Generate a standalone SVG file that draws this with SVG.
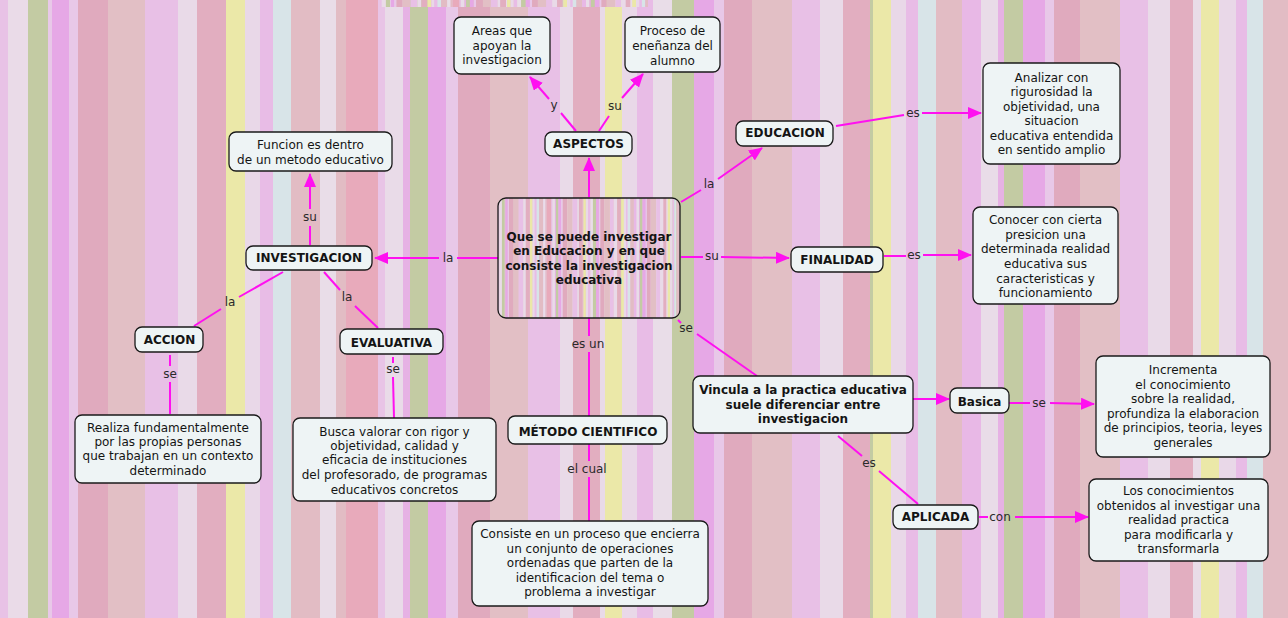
<svg xmlns="http://www.w3.org/2000/svg" xmlns:xlink="http://www.w3.org/1999/xlink" width="1288" height="618" viewBox="0 0 1288 618">
<style>
.n rect{fill:#eef4f5;stroke:#1a1a1a;stroke-width:1.3}
.t{font-family:"DejaVu Sans",Verdana,sans-serif;font-size:12px;fill:#141414;text-anchor:middle}
.b{font-weight:bold}
.lbl{font-family:"DejaVu Sans",Verdana,sans-serif;font-size:12px;fill:#2a2a2a;text-anchor:middle}
.c line{stroke:#ff10f0;stroke-width:2;fill:none}
.c line.a{marker-end:url(#ar)}
</style>
<defs>
<marker id="ar" markerUnits="userSpaceOnUse" markerWidth="14" markerHeight="12" refX="13" refY="6" orient="auto">
<path d="M0,0 L14,6 L0,12 z" fill="#ff10f0"/>
</marker>
<g id="bg">
<rect x="0" y="0" width="8" height="618" fill="#e8c2e6"/>
<rect x="8" y="0" width="20" height="618" fill="#eadbe8"/>
<rect x="28" y="0" width="20" height="618" fill="#c3cba3"/>
<rect x="48" y="0" width="4" height="618" fill="#e8c8e8"/>
<rect x="52" y="0" width="17" height="618" fill="#e6a8e6"/>
<rect x="69" y="0" width="9" height="618" fill="#e8c8e8"/>
<rect x="78" y="0" width="30" height="618" fill="#e0aabe"/>
<rect x="108" y="0" width="37" height="618" fill="#e2bfc5"/>
<rect x="145" y="0" width="33" height="618" fill="#e8c0e6"/>
<rect x="178" y="0" width="19" height="618" fill="#e9dae8"/>
<rect x="197" y="0" width="29" height="618" fill="#e2aec0"/>
<rect x="226" y="0" width="19" height="618" fill="#ebe8a8"/>
<rect x="245" y="0" width="15" height="618" fill="#e9d8e8"/>
<rect x="260" y="0" width="13" height="618" fill="#e8bce6"/>
<rect x="273" y="0" width="18" height="618" fill="#d8e4e8"/>
<rect x="291" y="0" width="29" height="618" fill="#e2bcc4"/>
<rect x="320" y="0" width="16" height="618" fill="#e9dde8"/>
<rect x="336" y="0" width="10" height="618" fill="#e2bcc4"/>
<rect x="346" y="0" width="32" height="618" fill="#e8aabb"/>
<rect x="378" y="0" width="7" height="618" fill="#e8c4e6"/>
<rect x="385" y="0" width="18" height="618" fill="#e9dbe8"/>
<rect x="403" y="0" width="7" height="618" fill="#e6b2e4"/>
<rect x="410" y="0" width="18" height="618" fill="#c3cba3"/>
<rect x="428" y="0" width="18" height="618" fill="#e6a8e6"/>
<rect x="446" y="0" width="12" height="618" fill="#e8c8e8"/>
<rect x="458" y="0" width="32" height="618" fill="#e0aabe"/>
<rect x="490" y="0" width="38" height="618" fill="#e2bfc5"/>
<rect x="528" y="0" width="32" height="618" fill="#e8c0e6"/>
<rect x="560" y="0" width="13" height="618" fill="#e9dae8"/>
<rect x="573" y="0" width="27" height="618" fill="#e2aec0"/>
<rect x="600" y="0" width="5" height="618" fill="#e9dae8"/>
<rect x="605" y="0" width="17" height="618" fill="#ebe8a8"/>
<rect x="622" y="0" width="15" height="618" fill="#e9d8e8"/>
<rect x="637" y="0" width="16" height="618" fill="#e8bce6"/>
<rect x="653" y="0" width="19" height="618" fill="#e9dde8"/>
<rect x="672" y="0" width="22" height="618" fill="#c3cba3"/>
<rect x="694" y="0" width="20" height="618" fill="#e6a8e6"/>
<rect x="714" y="0" width="10" height="618" fill="#e8c8e8"/>
<rect x="724" y="0" width="28" height="618" fill="#e0aabe"/>
<rect x="752" y="0" width="40" height="618" fill="#e2bfc5"/>
<rect x="792" y="0" width="28" height="618" fill="#e8c0e6"/>
<rect x="820" y="0" width="23" height="618" fill="#e9dae8"/>
<rect x="843" y="0" width="27" height="618" fill="#e2aec0"/>
<rect x="870" y="0" width="3" height="618" fill="#c3cba3"/>
<rect x="873" y="0" width="18" height="618" fill="#ebe8a8"/>
<rect x="891" y="0" width="15" height="618" fill="#e9d8e8"/>
<rect x="906" y="0" width="12" height="618" fill="#e8bce6"/>
<rect x="918" y="0" width="18" height="618" fill="#d8e4e8"/>
<rect x="936" y="0" width="26" height="618" fill="#e2bcc4"/>
<rect x="962" y="0" width="19" height="618" fill="#e8b8e6"/>
<rect x="981" y="0" width="17" height="618" fill="#e9dce8"/>
<rect x="998" y="0" width="6" height="618" fill="#e6b2e4"/>
<rect x="1004" y="0" width="19" height="618" fill="#c3cba3"/>
<rect x="1023" y="0" width="22" height="618" fill="#e6a8e6"/>
<rect x="1045" y="0" width="9" height="618" fill="#e8c8e8"/>
<rect x="1054" y="0" width="26" height="618" fill="#e0aabe"/>
<rect x="1080" y="0" width="40" height="618" fill="#e2bfc5"/>
<rect x="1120" y="0" width="28" height="618" fill="#e8c0e6"/>
<rect x="1148" y="0" width="22" height="618" fill="#e9dae8"/>
<rect x="1170" y="0" width="23" height="618" fill="#e2aec0"/>
<rect x="1193" y="0" width="8" height="618" fill="#e9dce8"/>
<rect x="1201" y="0" width="18" height="618" fill="#ebe8a8"/>
<rect x="1219" y="0" width="17" height="618" fill="#e9d8e8"/>
<rect x="1236" y="0" width="11" height="618" fill="#e8bce6"/>
<rect x="1247" y="0" width="16" height="618" fill="#d8e4e8"/>
<rect x="1263" y="0" width="25" height="618" fill="#e2bcc4"/>
</g>
<clipPath id="cc"><rect x="498" y="198" width="182" height="120" rx="8"/></clipPath>
<clipPath id="ct"><rect x="380" y="0" width="268" height="7"/></clipPath>
</defs>

<use href="#bg" xlink:href="#bg"/>
<g clip-path="url(#ct)"><use href="#bg" xlink:href="#bg" transform="translate(380,0) scale(0.21,1)"/></g>

<g class="c" id="connectors">
<line class="a" x1="589" y1="197" x2="589" y2="158"/>
<line x1="576" y1="131" x2="561" y2="113"/>
<line class="a" x1="549" y1="99" x2="530" y2="77"/>
<line x1="599" y1="131" x2="609" y2="116"/>
<line class="a" x1="622" y1="98" x2="643" y2="74"/>
<line x1="310" y1="245" x2="310" y2="226"/>
<line class="a" x1="310" y1="209" x2="310" y2="174"/>
<line x1="498" y1="258" x2="457" y2="258"/>
<line class="a" x1="439" y1="258" x2="375" y2="258"/>
<line x1="283" y1="272" x2="239" y2="297"/>
<line x1="221" y1="309" x2="194" y2="326"/>
<line x1="324" y1="272" x2="340" y2="290"/>
<line x1="355" y1="306" x2="378" y2="328"/>
<line x1="170" y1="355" x2="170" y2="366"/>
<line x1="170" y1="382" x2="170" y2="414"/>
<line x1="393" y1="357" x2="393" y2="363"/>
<line x1="393" y1="377" x2="394" y2="418"/>
<line x1="589" y1="318" x2="589" y2="336"/>
<line x1="589" y1="352" x2="589" y2="416"/>
<line x1="589" y1="444" x2="589" y2="461"/>
<line x1="589" y1="477" x2="589" y2="521"/>
<line x1="681" y1="202" x2="701" y2="190"/>
<line class="a" x1="718" y1="179" x2="762" y2="148"/>
<line x1="836" y1="126" x2="904" y2="115"/>
<line class="a" x1="922" y1="113" x2="981" y2="113"/>
<line x1="681" y1="257" x2="703" y2="257"/>
<line class="a" x1="721" y1="257" x2="789" y2="258"/>
<line x1="884" y1="256" x2="906" y2="256"/>
<line class="a" x1="923" y1="255" x2="971" y2="255"/>
<line x1="678" y1="320" x2="681" y2="323"/>
<line x1="697" y1="334" x2="757" y2="376"/>
<line class="a" x1="913" y1="399" x2="949" y2="399"/>
<line x1="1009" y1="403" x2="1030" y2="403"/>
<line class="a" x1="1050" y1="403" x2="1094" y2="404"/>
<line x1="838" y1="436" x2="862" y2="456"/>
<line x1="879" y1="471" x2="918" y2="504"/>
<line x1="979" y1="517" x2="988" y2="517"/>
<line class="a" x1="1015" y1="517" x2="1088" y2="517"/>
</g>

<g id="connector-labels">
<text class="lbl" x="554" y="109">y</text>
<text class="lbl" x="615" y="110">su</text>
<text class="lbl" x="310" y="221">su</text>
<text class="lbl" x="448" y="262">la</text>
<text class="lbl" x="230" y="306">la</text>
<text class="lbl" x="347" y="301">la</text>
<text class="lbl" x="170" y="378">se</text>
<text class="lbl" x="393" y="373">se</text>
<text class="lbl" x="588" y="348">es un</text>
<text class="lbl" x="587" y="473">el cual</text>
<text class="lbl" x="709" y="188">la</text>
<text class="lbl" x="913" y="117">es</text>
<text class="lbl" x="712" y="260">su</text>
<text class="lbl" x="914" y="259">es</text>
<text class="lbl" x="686" y="332">se</text>
<text class="lbl" x="1039" y="407">se</text>
<text class="lbl" x="869" y="467">es</text>
<text class="lbl" x="1000" y="521">con</text>
</g>

<g class="n" id="n-areas"><rect x="454" y="17" width="96" height="57" rx="7"/>
<text class="t" x="502"><tspan x="502" y="35">Areas que</tspan><tspan x="502" y="49.5">apoyan la</tspan><tspan x="502" y="64">investigacion</tspan></text></g>

<g class="n" id="n-proceso"><rect x="625" y="17" width="95" height="55" rx="7"/>
<text class="t"><tspan x="672.5" y="35.3">Proceso de</tspan><tspan x="672.5" y="50">eneñanza del</tspan><tspan x="672.5" y="64.6">alumno</tspan></text></g>

<g class="n" id="n-aspectos"><rect x="545" y="132" width="87" height="24" rx="7"/>
<text class="t b" x="588.5" y="148.3">ASPECTOS</text></g>

<g class="n" id="n-funcion"><rect x="229" y="132" width="163" height="39" rx="7"/>
<text class="t"><tspan x="310.5" y="149.3">Funcion es dentro</tspan><tspan x="310.5" y="163.6">de un metodo educativo</tspan></text></g>

<g class="n" id="n-investigacion"><rect x="246" y="246" width="126" height="24" rx="7"/>
<text class="t b" x="309" y="262">INVESTIGACION</text></g>

<g class="n" id="n-central">
<g clip-path="url(#cc)"><use href="#bg" xlink:href="#bg" transform="translate(498,0) scale(0.1413,1)"/></g>
<rect x="498" y="198" width="182" height="120" rx="8" style="fill:none"/>
<text class="t b"><tspan x="589" y="241">Que se puede investigar</tspan><tspan x="589" y="255.3">en Educacion y en que</tspan><tspan x="589" y="269.6">consiste la investigacion</tspan><tspan x="589" y="284">educativa</tspan></text></g>

<g class="n" id="n-educacion"><rect x="736" y="121" width="97" height="25" rx="7"/>
<text class="t b" x="785" y="137">EDUCACION</text></g>

<g class="n" id="n-analizar"><rect x="983" y="63" width="137" height="101" rx="7"/>
<text class="t"><tspan x="1051.5" y="81.6">Analizar con</tspan><tspan x="1051.5" y="96">rigurosidad la</tspan><tspan x="1051.5" y="110.6">objetividad, una</tspan><tspan x="1051.5" y="125">situacion</tspan><tspan x="1051.5" y="139.6">educativa entendida</tspan><tspan x="1051.5" y="154.3">en sentido amplio</tspan></text></g>

<g class="n" id="n-finalidad"><rect x="791" y="247" width="92" height="25" rx="7"/>
<text class="t b" x="837" y="263.6">FINALIDAD</text></g>

<g class="n" id="n-conocer"><rect x="973" y="207" width="145" height="97" rx="7"/>
<text class="t"><tspan x="1045.5" y="224.3">Conocer con cierta</tspan><tspan x="1045.5" y="239">presicion una</tspan><tspan x="1045.5" y="253.3">determinada realidad</tspan><tspan x="1045.5" y="268">educativa sus</tspan><tspan x="1045.5" y="282.6">caracteristicas y</tspan><tspan x="1045.5" y="297">funcionamiento</tspan></text></g>

<g class="n" id="n-accion"><rect x="135" y="327" width="68" height="25" rx="7"/>
<text class="t b" x="169.5" y="344">ACCION</text></g>

<g class="n" id="n-evaluativa"><rect x="340" y="329" width="103" height="25" rx="7"/>
<text class="t b" x="391.5" y="346.6">EVALUATIVA</text></g>

<g class="n" id="n-realiza"><rect x="75" y="415" width="186" height="68" rx="7"/>
<text class="t"><tspan x="168" y="431.6">Realiza fundamentalmente</tspan><tspan x="168" y="446">por las propias personas</tspan><tspan x="168" y="460.3">que trabajan en un contexto</tspan><tspan x="168" y="475">determinado</tspan></text></g>

<g class="n" id="n-busca"><rect x="293" y="418" width="203" height="83" rx="7"/>
<text class="t"><tspan x="394.5" y="435.6">Busca valorar con rigor y</tspan><tspan x="394.5" y="450">objetividad, calidad y</tspan><tspan x="394.5" y="464.3">eficacia de instituciones</tspan><tspan x="394.5" y="479">del profesorado, de programas</tspan><tspan x="394.5" y="493.6">educativos concretos</tspan></text></g>

<g class="n" id="n-metodo"><rect x="508" y="416" width="159" height="28" rx="7"/>
<text class="t b" x="588" y="436.3">MÉTODO CIENTIFICO</text></g>

<g class="n" id="n-consiste"><rect x="472" y="521" width="236" height="85" rx="7"/>
<text class="t"><tspan x="590" y="538.3">Consiste en un proceso que encierra</tspan><tspan x="590" y="552.6">un conjunto de operaciones</tspan><tspan x="590" y="567.3">ordenadas que parten de la</tspan><tspan x="590" y="582">identificacion del tema o</tspan><tspan x="590" y="596.3">problema a investigar</tspan></text></g>

<g class="n" id="n-vincula"><rect x="693" y="376" width="220" height="57" rx="7"/>
<text class="t b"><tspan x="803" y="394.3">Vincula a la practica educativa</tspan><tspan x="803" y="409">suele diferenciar entre</tspan><tspan x="803" y="423.3">investigacion</tspan></text></g>

<g class="n" id="n-basica"><rect x="950" y="388" width="59" height="25" rx="7"/>
<text class="t b" x="979.5" y="405.6">Basica</text></g>

<g class="n" id="n-incrementa"><rect x="1096" y="356" width="174" height="101" rx="7"/>
<text class="t"><tspan x="1183" y="374">Incrementa</tspan><tspan x="1183" y="388.6">el conocimiento</tspan><tspan x="1183" y="403">sobre la realidad,</tspan><tspan x="1183" y="417.6">profundiza la elaboracion</tspan><tspan x="1183" y="432.3">de principios, teoria, leyes</tspan><tspan x="1183" y="447">generales</tspan></text></g>

<g class="n" id="n-aplicada"><rect x="893" y="505" width="85" height="24" rx="7"/>
<text class="t b" x="935.5" y="521">APLICADA</text></g>

<g class="n" id="n-losconocimientos"><rect x="1089" y="479" width="179" height="82" rx="7"/>
<text class="t"><tspan x="1178.5" y="495">Los conocimientos</tspan><tspan x="1178.5" y="509.6">obtenidos al investigar una</tspan><tspan x="1178.5" y="524">realidad practica</tspan><tspan x="1178.5" y="538.6">para modificarla y</tspan><tspan x="1178.5" y="553.3">transformarla</tspan></text></g>
</svg>
